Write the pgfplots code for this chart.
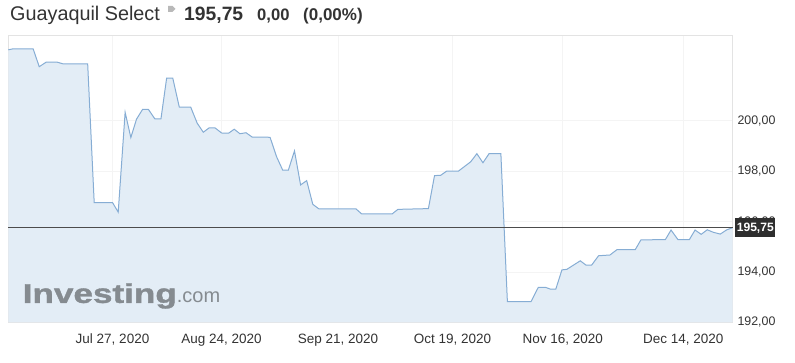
\documentclass[border=0pt]{standalone}
\usepackage{pgfplots}
\pgfplotsset{compat=1.18}
\usepackage{fontspec}
\setmainfont{Liberation Sans}
\newfontfamily\wmfont{Liberation Sans Bold}[FakeBold=1.2]
\definecolor{linec}{HTML}{86ADD4}
\definecolor{fillc}{HTML}{E3EDF6}
\definecolor{txt}{HTML}{333333}
\definecolor{wm}{HTML}{858B90}
\definecolor{boxc}{HTML}{2E2E2E}
\begin{document}
\begin{tikzpicture}[x=1pt,y=1pt]
\path[use as bounding box] (0,0) rectangle (795,363);
\begin{axis}[
  at={(8.3pt,40.7pt)}, anchor=south west,
  width=724.2pt, height=286.6pt, scale only axis,
  xmin=-25.6, xmax=152.3, ymin=192, ymax=203.37,
  axis line style={draw=gray!22},
  xtick={0,26.8,55.4,83.5,110.6,140.2},
  xticklabels={{Jul 27, 2020},{Aug 24, 2020},{Sep 21, 2020},{Oct 19, 2020},{Nov 16, 2020},{Dec 14, 2020}},
  ytick={192,194,196,198,200},
  yticklabel pos=right,
  major tick length=0pt,
  grid=major, major grid style={draw=gray!9, line width=0.6pt},
  tick label style={text=txt},
  xticklabel style={font=\fontsize{13.5}{15}\selectfont, yshift=-8pt},
  yticklabel style={font=\fontsize{12.4}{14}\selectfont, xshift=1.5pt},
  /pgf/number format/.cd, fixed, fixed zerofill, precision=2, use comma, assume math mode=true,
  /pgfplots/.cd, axis on top=false, clip=false,
]
\addplot[fill=fillc, draw=none] table {
x y
-25.6 202.81
-24.4 202.85
-19.5 202.85
-18.0 202.14
-16.3 202.32
-13.6 202.32
-12.1 202.25
-6.1 202.25
-4.5 196.75
0.0 196.75
1.4 196.37
3.1 200.33
4.5 199.33
5.9 200.06
7.4 200.45
8.8 200.45
10.4 200.07
11.9 200.07
13.3 201.69
14.8 201.69
16.4 200.54
19.2 200.54
20.8 199.90
22.3 199.54
23.7 199.71
25.2 199.71
26.8 199.51
28.5 199.50
29.9 199.66
31.3 199.48
32.8 199.52
34.3 199.35
38.7 199.34
40.3 198.57
41.8 198.04
43.2 198.04
44.7 198.80
46.2 197.45
47.7 197.62
49.2 196.68
50.7 196.50
59.8 196.50
61.2 196.30
68.7 196.30
70.1 196.48
77.6 196.51
79.1 197.82
80.6 197.83
82.1 198.00
85.0 198.00
88.0 198.37
89.5 198.69
91.0 198.33
92.5 198.69
95.4 198.69
97.0 192.82
102.8 192.82
104.6 193.39
106.3 193.39
107.5 193.32
108.9 193.32
110.4 194.08
111.6 194.10
114.9 194.44
116.3 194.27
117.7 194.27
119.4 194.64
122.2 194.67
123.9 194.88
128.4 194.88
129.8 195.27
135.8 195.28
137.2 195.66
138.9 195.28
141.7 195.28
143.1 195.66
144.6 195.49
146.1 195.67
147.6 195.57
149.3 195.50
150.9 195.67
152.3 195.75
} \closedcycle;
\node[anchor=base west, text=wm, inner sep=0pt] at (axis cs:-22.1,192.77)
  {\scalebox{1.3}[1]{\fontsize{27}{29}\wmfont Investing}\fontsize{20}{22}\selectfont .com};
\addplot[draw=linec, line width=1pt] table {
x y
-25.6 202.81
-24.4 202.85
-19.5 202.85
-18.0 202.14
-16.3 202.32
-13.6 202.32
-12.1 202.25
-6.1 202.25
-4.5 196.75
0.0 196.75
1.4 196.37
3.1 200.33
4.5 199.33
5.9 200.06
7.4 200.45
8.8 200.45
10.4 200.07
11.9 200.07
13.3 201.69
14.8 201.69
16.4 200.54
19.2 200.54
20.8 199.90
22.3 199.54
23.7 199.71
25.2 199.71
26.8 199.51
28.5 199.50
29.9 199.66
31.3 199.48
32.8 199.52
34.3 199.35
38.7 199.34
40.3 198.57
41.8 198.04
43.2 198.04
44.7 198.80
46.2 197.45
47.7 197.62
49.2 196.68
50.7 196.50
59.8 196.50
61.2 196.30
68.7 196.30
70.1 196.48
77.6 196.51
79.1 197.82
80.6 197.83
82.1 198.00
85.0 198.00
88.0 198.37
89.5 198.69
91.0 198.33
92.5 198.69
95.4 198.69
97.0 192.82
102.8 192.82
104.6 193.39
106.3 193.39
107.5 193.32
108.9 193.32
110.4 194.08
111.6 194.10
114.9 194.44
116.3 194.27
117.7 194.27
119.4 194.64
122.2 194.67
123.9 194.88
128.4 194.88
129.8 195.27
135.8 195.28
137.2 195.66
138.9 195.28
141.7 195.28
143.1 195.66
144.6 195.49
146.1 195.67
147.6 195.57
149.3 195.50
150.9 195.67
152.3 195.75
};
\draw[draw=black!70, line width=1pt] (axis cs:-25.6,195.75) -- (axis cs:152.3,195.75);
\node[anchor=west, fill=boxc, text=white, inner xsep=1.6pt, minimum height=19pt, inner ysep=0pt, xshift=2.5pt,
  font=\fontsize{12.1}{14}\selectfont\bfseries] at (axis cs:152.3,195.75) {195,75};
\end{axis}
\node[anchor=base west, inner sep=0pt, text=txt, font=\fontsize{19.8}{22}\selectfont] at (10,342.3) {Guayaquil Select};
\fill[gray!55] (168,351) -- (172.5,351) -- (175.5,354) -- (172.5,357) -- (168,357) -- cycle;
\node[anchor=base west, inner sep=0pt, text=txt, font=\fontsize{19.3}{22}\selectfont\bfseries] at (184,342.3) {195,75};
\node[anchor=base west, inner sep=0pt, text=txt, font=\fontsize{16.6}{20}\selectfont\bfseries] at (257,342.3) {0,00};
\node[anchor=base west, inner sep=0pt, text=txt, font=\fontsize{17}{20}\selectfont\bfseries] at (303,342.3) {(0,00\%)};
\end{tikzpicture}
\end{document}
